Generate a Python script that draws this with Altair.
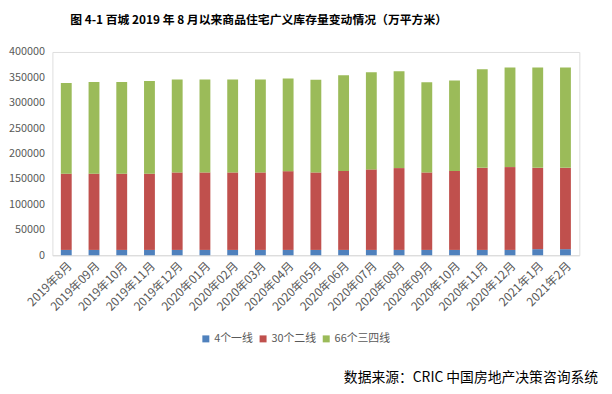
import altair as alt
import pandas as pd

categories = ["2019年8月", "2019年09月", "2019年10月", "2019年11月", "2019年12月",
              "2020年01月", "2020年02月", "2020年03月", "2020年04月", "2020年05月",
              "2020年06月", "2020年07月", "2020年08月", "2020年09月", "2020年10月",
              "2020年11月", "2020年12月", "2021年1月", "2021年2月"]

series_names = ["4个一线", "30个二线", "66个三四线"]
tier1 = [10500, 10500, 10500, 10500, 10500, 10500, 10500, 10500, 10500, 10500,
         10500, 10500, 10500, 10500, 10500, 10500, 10500, 12000, 12000]
tier2 = [150000, 150000, 150000, 150000, 152500, 152500, 152500, 152500, 155000, 152500,
         155500, 158500, 161000, 152500, 155500, 161500, 163000, 160000, 160000]
tier3 = [178500, 180500, 180500, 182500, 183000, 183000, 183000, 183000, 182500, 182500,
         188000, 191000, 190500, 177500, 178000, 194000, 196000, 197500, 197500]
colors = ["#4F81BD", "#C0504D", "#9BBB59"]
y_ticks = [0, 50000, 100000, 150000, 200000, 250000, 300000, 350000, 400000]

title_text = "图 4-1 百城 2019 年 8 月以来商品住宅广义库存量变动情况（万平方米）"
source_text = "数据来源：CRIC 中国房地产决策咨询系统"

rows = []
for si, (name, vals) in enumerate(zip(series_names, [tier1, tier2, tier3])):
    for c, v in zip(categories, vals):
        rows.append({"月份": c, "系列": name, "值": v, "序": si})
df = pd.DataFrame(rows)

FONT = "Noto Sans CJK SC"

bars = alt.Chart(df).mark_bar(size=11).encode(
    x=alt.X("月份:N", sort=categories, title=None,
            scale=alt.Scale(paddingInner=0.6, paddingOuter=0.3),
            axis=alt.Axis(labelAngle=-45, labelFontSize=12, labelColor="#595959",
                          labelFont=FONT, ticks=False, domainColor="#D9D9D9",
                          labelPadding=5)),
    y=alt.Y("值:Q", stack="zero", title=None,
            scale=alt.Scale(domain=[0, 400000], nice=False),
            axis=alt.Axis(values=y_ticks, grid=False, domain=False, ticks=False,
                          format="d",
                          labelFontSize=11, labelColor="#595959", labelFont=FONT,
                          labelPadding=8)),
    color=alt.Color("系列:N", scale=alt.Scale(domain=series_names, range=colors),
                    legend=alt.Legend(title=None, orient="none", direction="horizontal",
                                      legendX=150, legendY=285, symbolType="square",
                                      symbolSize=50, symbolStrokeWidth=0,
                                      labelFontSize=11, labelColor="#595959",
                                      labelFont=FONT, columnPadding=4, symbolOffset=0,
                                      labelOffset=3)),
    order=alt.Order("序:Q", sort="ascending"),
)

source = alt.Chart(pd.DataFrame({"t": [source_text]})).mark_text(
    align="right", baseline="bottom", fontSize=14, font=FONT, color="#000000"
).encode(text="t:N", x=alt.value(553), y=alt.value(337))

chart = alt.layer(bars, source).properties(
    width=534, height=206,
    padding={"left": 45, "top": 42, "right": 25, "bottom": 136},
    autosize=alt.AutoSizeParams(type="none"),
    title=alt.TitleParams(title_text, anchor="middle", dx=-58, offset=19,
                          fontSize=12, font=FONT, fontWeight="bold", color="#000000"),
).configure_view(stroke=None).configure(background="white")

chart.save("out.html", embed_options={"renderer": "svg", "actions": False})
